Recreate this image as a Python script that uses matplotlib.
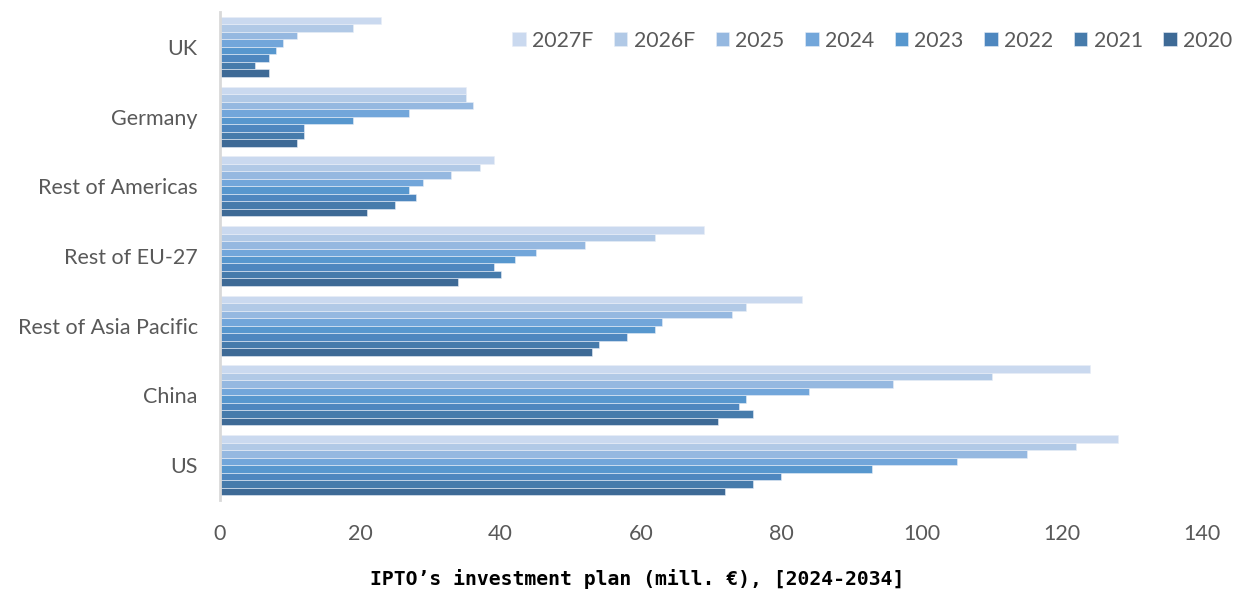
import matplotlib
matplotlib.use("Agg")
import matplotlib.pyplot as plt
import numpy as np

categories = ["US", "China", "Rest of Asia Pacific", "Rest of EU-27", "Rest of Americas", "Germany", "UK"]
years = ["2020", "2021", "2022", "2023", "2024", "2025", "2026F", "2027F"]
values = {
    "2020":  [72, 71, 53, 34, 21, 11, 7],
    "2021":  [76, 76, 54, 40, 25, 12, 5],
    "2022":  [80, 74, 58, 39, 28, 12, 7],
    "2023":  [93, 75, 62, 42, 27, 19, 8],
    "2024":  [105, 84, 63, 45, 29, 27, 9],
    "2025":  [115, 96, 73, 52, 33, 36, 11],
    "2026F": [122, 110, 75, 62, 37, 35, 19],
    "2027F": [128, 124, 83, 69, 39, 35, 23],
}
colors = {
    "2020": "#3E6A96",
    "2021": "#467BAB",
    "2022": "#4E87BF",
    "2023": "#5797CE",
    "2024": "#72A6DA",
    "2025": "#95B8E0",
    "2026F": "#B1C9E6",
    "2027F": "#CAD9EF",
}
xticks = [0, 20, 40, 60, 80, 100, 120, 140]
xlabel = "IPTO\u2019s investment plan (mill. \u20ac), [2024-2034]"

fig = plt.figure(figsize=(12.56, 5.96), dpi=100)
ax = fig.add_axes([220/1256, 1 - 500/596, (1202-220)/1256, 488/596])

n = len(years)
group = 0.86
bh = group / n
y = np.arange(len(categories))
handles = {}
for i, yr in enumerate(years):
    off = -group/2 + bh*(i + 0.5)
    h = ax.barh(y + off, values[yr], height=bh, color=colors[yr],
                edgecolor="#E8EEF7", linewidth=0.4, label=yr)
    handles[yr] = h

ax.set_ylim(-0.5, len(categories) - 0.5)
ax.set_xlim(0, 140)
ax.set_xticks(xticks)
ax.set_yticks(y)
ax.set_yticklabels(categories)
for s in ["top", "right", "bottom"]:
    ax.spines[s].set_visible(False)
ax.spines["left"].set_color("#D9D9D9")
ax.spines["left"].set_linewidth(2)
ax.tick_params(axis="both", length=0, labelsize=15.5, labelcolor="#595959")
ax.tick_params(axis="y", pad=16)
ax.tick_params(axis="x", pad=17)
for lbl in ax.get_xticklabels() + ax.get_yticklabels():
    lbl.set_family("Lato")

fig.text(637/1256, 1 - 579/596, xlabel, family="DejaVu Sans Mono", fontweight="bold",
         fontsize=14.2, ha="center", va="center", color="black")

order = years[::-1]
leg = ax.legend([handles[k] for k in order], order, loc="upper right", ncol=8,
                bbox_to_anchor=(1.046, 0.992), frameon=False, handlelength=0.62,
                handleheight=0.62, handletextpad=0.3, columnspacing=0.98,
                borderaxespad=0.3, prop={"family": "Lato", "size": 15.3})
for t in leg.get_texts():
    t.set_color("#595959")

fig.savefig("out.png", dpi=100)
